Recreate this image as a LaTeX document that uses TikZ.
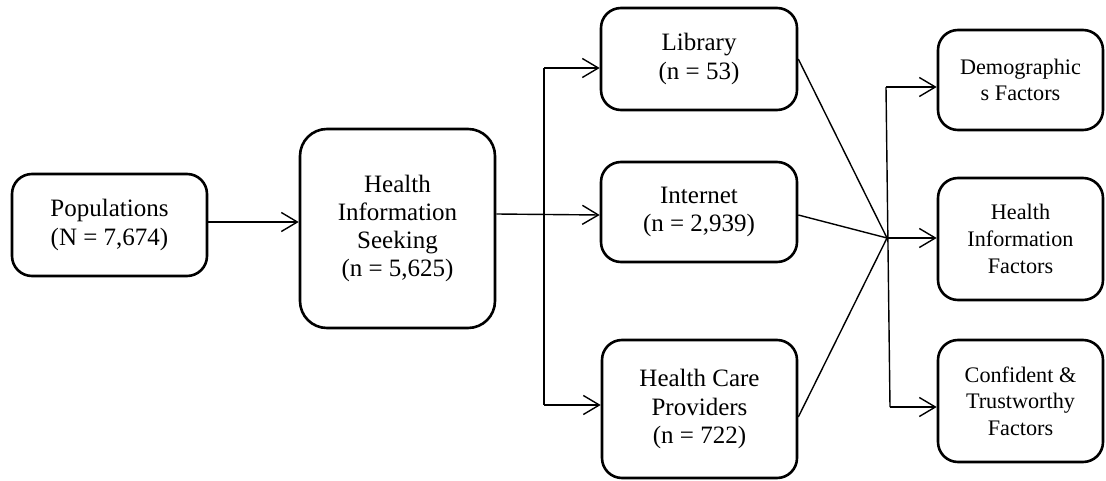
\documentclass[tikz,border=0pt]{standalone}
\usepackage{fontspec}
\setmainfont{Liberation Serif}
\usetikzlibrary{arrows.meta}
\begin{document}
\begin{tikzpicture}[x=1pt,y=-1pt,
  box/.style={draw, line width=2.6pt, rounded corners=20pt, align=center,
    inner sep=0pt, font=\fontsize{25}{28.3}\selectfont},
  smallbox/.style={box, font=\fontsize{22.2}{26.7}\selectfont},
  link/.style={line width=1.4pt},
  arr/.style={link, -{Straight Barb[length=16pt,width=19pt,line width=1.4pt]}}]
\useasboundingbox (0,0) rectangle (1106,481);

% sample and sources
\node[box, minimum width=195pt, minimum height=102pt] (pop) at (109.5,225)
  {Populations\\(N = 7,674)};
\node[box, rounded corners=27pt, minimum width=195pt, minimum height=199pt] (his) at (397.5,228.5)
  {Health\\Information\\Seeking\\(n = 5,625)};
\node[box, minimum width=196pt, minimum height=102pt] (lib) at (699,59)
  {Library\\(n = 53)};
\node[box, minimum width=196pt, minimum height=100pt] (int) at (699,212)
  {Internet\\(n = 2,939)};
\node[box, minimum width=195pt, minimum height=138pt] (hcp) at (699.5,409)
  {Health Care\\Providers\\(n = 722)};

% factor groups
\node[smallbox, minimum width=165pt, minimum height=100pt] (dem) at (1020.5,80)
  {Demographic\\s Factors};
\node[smallbox, minimum width=165pt, minimum height=122pt] (hif) at (1020.5,239)
  {Health\\Information\\Factors};
\node[smallbox, minimum width=165pt, minimum height=122pt] (cft) at (1020.5,401)
  {Confident \&\\Trustworthy\\Factors};

% branching points
\coordinate (sp) at (544,214);
\coordinate (j) at (887,238);
\coordinate (jt) at (886,87);
\coordinate (jb) at (890,407);

\draw[arr] (pop.east |- 0,222) -- (his.west |- 0,222);
\draw[arr] (his.east |- sp) -- ([yshift=-3pt]int.west);
\draw[link] (sp |- 0,68) -- (sp |- 0,405);
\draw[arr] (sp |- 0,68) -- ([yshift=-9pt]lib.west);
\draw[arr] (sp |- 0,405) -- ([yshift=4pt]hcp.west);

\draw[link] (lib.east) -- (j);
\draw[link] ([yshift=-3pt]int.east) -- (j);
\draw[link] ([yshift=-8pt]hcp.east) -- (j);

\draw[link] (jt) -- (jb);
\draw[arr] (jt) -- (jt -| dem.west);
\draw[arr] (j) -- (j -| hif.west);
\draw[arr] (jb) -- (jb -| cft.west);
\end{tikzpicture}
\end{document}
